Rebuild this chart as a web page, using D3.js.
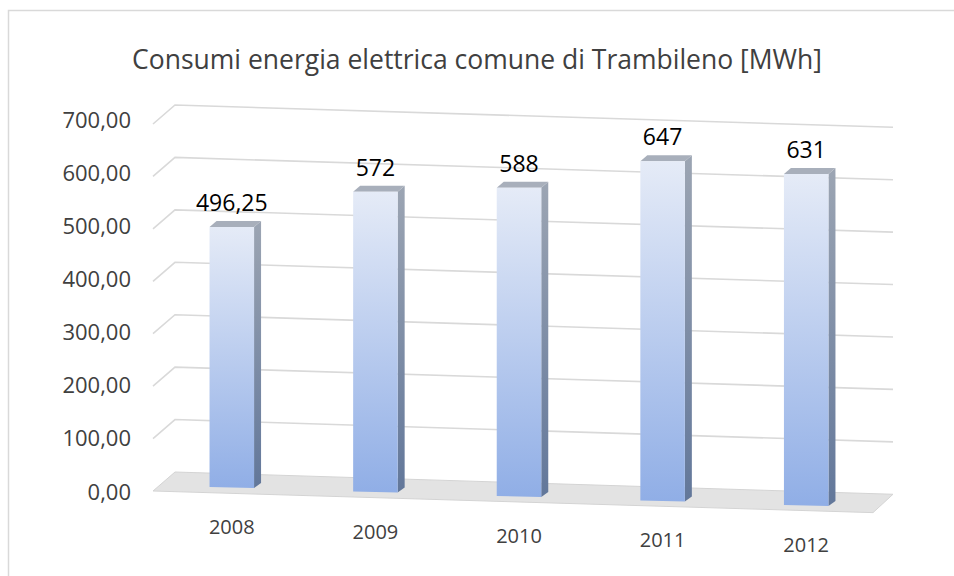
<!DOCTYPE html>
<html>
<head>
<meta charset="utf-8">
<script src="https://cdn.jsdelivr.net/npm/d3@7"></script>
<style>
    html, body { margin: 0; padding: 0; background: #fff; }
    text { font-family: "Open Sans", Lato, sans-serif; }
</style>
</head>
<body>
<div id="chart"></div>
<script>
var years = ['2008', '2009', '2010', '2011', '2012'];
var values = [496.25, 572, 588, 647, 631];
var ticks = [0, 100, 200, 300, 400, 500, 600, 700];
var title = 'Consumi energia elettrica comune di Trambileno [MWh]';

var width = 954,
    height = 576,
    tilt = 0.031,       // floor slopes down to the right
    depth = 22,         // depth of the floor (left diagonal)
    wallLeft = 175,
    wallRight = 893
;

var svg = d3.select('#chart')
    .append('svg')
    .attr('width', width)
    .attr('height', height)
;

// chart border
svg.append('path')
    .attr('d', 'M8.5,' + height + 'V10.5H' + width)
    .attr('fill', 'none')
    .attr('stroke', '#d9d9d9')
    .attr('stroke-width', 1.5)
;

svg.append('text')
    .attr('x', 477)
    .attr('y', 69)
    .attr('text-anchor', 'middle')
    .attr('font-size', 26.5)
    .attr('fill', '#404040')
    .text(title)
;

// back wall scale (at x = wallLeft)
var y = d3.scaleLinear()
    .domain([0, 700])
    .range([472, 105])
;
var yLabel = d3.scaleLinear()
    .domain([0, 700])
    .range([492, 120])
;
var x = d3.scaleBand()
    .domain(years)
    .range([160, 878])
;

function slope(px) {
    return tilt * (px - wallLeft);
}

var defs = svg.append('defs');
var gFront = defs.append('linearGradient')
    .attr('id', 'front').attr('x1', 0).attr('y1', 0).attr('x2', 0).attr('y2', 1);
gFront.append('stop').attr('offset', '0%').attr('stop-color', '#e5ebf7');
gFront.append('stop').attr('offset', '100%').attr('stop-color', '#90aee6');
var gSide = defs.append('linearGradient')
    .attr('id', 'side').attr('x1', 0).attr('y1', 0).attr('x2', 0).attr('y2', 1);
gSide.append('stop').attr('offset', '0%').attr('stop-color', '#9ca5b3');
gSide.append('stop').attr('offset', '100%').attr('stop-color', '#62779a');

// floor
var floorY = y(0);
svg.append('path')
    .attr('d', 'M' + (wallLeft - depth) + ',' + (floorY + 19) +
        'L' + wallLeft + ',' + floorY +
        'L' + wallRight + ',' + (floorY + slope(wallRight)) +
        'L' + (wallRight - 20) + ',' + (floorY + 19 + slope(wallRight - 20)) + 'Z')
    .attr('fill', '#e3e3e3')
    .attr('stroke', '#d4d4d4')
;

// gridlines on the back wall
svg.append('g')
    .selectAll('path')
    .data(ticks.filter(function(d) { return d > 0; }))
    .enter()
    .append('path')
    .attr('d', function(d) {
        var yy = y(d);
        return 'M' + (wallLeft - depth) + ',' + (yy + 19) +
            'L' + wallLeft + ',' + yy +
            'L' + wallRight + ',' + (yy + slope(wallRight));
    })
    .attr('fill', 'none')
    .attr('stroke', '#d9d9d9')
    .attr('stroke-width', 1.6)
;

// y axis labels
var axis = svg.append('g')
    .attr('transform', 'translate(131,0)')
    .call(d3.axisLeft(yLabel)
        .tickValues(ticks)
        .tickSize(0)
        .tickPadding(0)
        .tickFormat(function(d) { return d3.format('.2f')(d).replace('.', ','); }))
;
axis.select('.domain').remove();
axis.selectAll('text')
    .attr('font-size', 22)
    .attr('fill', '#404040')
    .style('font-family', '"Open Sans", Lato, sans-serif')
;

// bars
var barW = x.bandwidth() * 0.31,
    sideW = 7,
    topH = 6,
    lift = 14;

var bars = svg.append('g')
    .selectAll('g')
    .data(years)
    .enter()
    .append('g')
;

function barGeom(d, i) {
    var cx = x(d) + x.bandwidth() / 2;
    var x0 = cx - barW / 2,
        x1 = cx + barW / 2;
    var off = lift + slope(x0);
    return {
        x0: x0, x1: x1, cx: cx,
        base: y(0) + off,
        top: y(values[i]) + off
    };
}

bars.append('path')
    .attr('d', function(d, i) {
        var g = barGeom(d, i);
        return 'M' + g.x1 + ',' + g.top + 'L' + (g.x1 + sideW) + ',' + (g.top - topH) +
            'L' + (g.x1 + sideW) + ',' + (g.base - topH + 2) + 'L' + g.x1 + ',' + (g.base + 1) + 'Z';
    })
    .attr('fill', 'url(#side)')
;
bars.append('path')
    .attr('d', function(d, i) {
        var g = barGeom(d, i);
        return 'M' + g.x0 + ',' + g.top + 'L' + (g.x0 + sideW) + ',' + (g.top - topH) +
            'L' + (g.x1 + sideW) + ',' + (g.top - topH) + 'L' + g.x1 + ',' + g.top + 'Z';
    })
    .attr('fill', '#a8afbb')
;
bars.append('path')
    .attr('d', function(d, i) {
        var g = barGeom(d, i);
        return 'M' + g.x0 + ',' + g.top + 'L' + g.x1 + ',' + g.top +
            'L' + g.x1 + ',' + (g.base + 1) + 'L' + g.x0 + ',' + g.base + 'Z';
    })
    .attr('fill', 'url(#front)')
;

// value labels
bars.append('text')
    .attr('x', function(d, i) { return barGeom(d, i).cx; })
    .attr('y', function(d, i) { return barGeom(d, i).top - 16; })
    .attr('text-anchor', 'middle')
    .attr('font-size', 23)
    .attr('fill', '#000')
    .text(function(d, i) { return String(values[i]).replace('.', ','); })
;

// category labels
bars.append('text')
    .attr('x', function(d, i) { return barGeom(d, i).cx; })
    .attr('y', function(d, i) { return barGeom(d, i).base + 47; })
    .attr('text-anchor', 'middle')
    .attr('font-size', 20)
    .attr('fill', '#404040')
    .text(function(d) { return d; })
;
</script>
</body>
</html>
